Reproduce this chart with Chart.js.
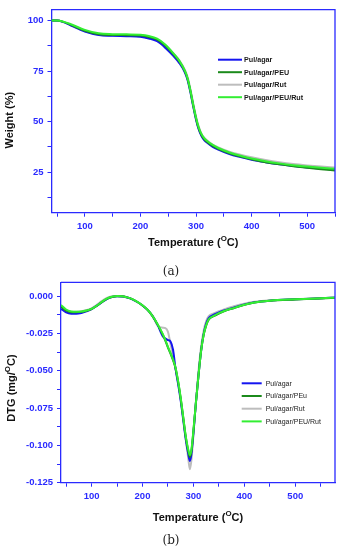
<!DOCTYPE html>
<html>
<head>
<meta charset="utf-8">
<script src="https://cdn.jsdelivr.net/npm/chart.js@4.4.1/dist/chart.umd.min.js"></script>
<style>
  body { margin: 0; background: #fff; }
  #page { position: relative; width: 342px; height: 550px; overflow: hidden; background: #fff; }
  canvas { position: absolute; left: 0; }
  #tgaChart { top: 0; }
  #dtgChart { top: 272px; }
  .caption { position: absolute; left: 0; width: 342px; text-align: center; font-family: 'DejaVu Serif', serif; font-size: 12px; line-height: 14px; color: #222; }
</style>
</head>
<body>
<div id="page">
  <canvas id="tgaChart" width="342" height="262"></canvas>
  <canvas id="dtgChart" width="342" height="262"></canvas>
  <div class="caption" style="top:264px">(a)</div>
  <div class="caption" style="top:533px">(b)</div>
</div>
<script>
// ---- TGA data (weight %) ----
const tgaTemp = [40, 50, 60, 75, 100, 125, 150, 175, 200, 215, 230, 245, 260, 270, 280, 285, 290, 295, 300, 305, 310, 315, 320, 330, 340, 360, 380, 400, 425, 450, 475, 500, 525, 550];
const tgaPulAgar = [100, 100, 99.4, 97.6, 94.6, 92.9, 92.5, 92.3, 92.0, 91.2, 89.8, 86.5, 82.3, 79.0, 74.3, 70.4, 64.4, 57.4, 51.0, 46.0, 42.8, 40.8, 39.6, 37.6, 36.2, 34.0, 32.5, 31.2, 30.0, 29.0, 28.1, 27.4, 26.8, 26.2];
const tgaPulAgarPEU = [100, 100, 99.5, 97.9, 95.0, 93.3, 92.9, 92.8, 92.6, 91.9, 90.6, 87.6, 83.2, 79.8, 74.9, 71.0, 65.0, 58.0, 51.5, 46.5, 43.3, 41.3, 40.0, 38.0, 36.6, 34.4, 32.8, 31.4, 30.0, 28.9, 28.0, 27.2, 26.5, 25.9];
const tgaPulAgarRut = [100, 100, 99.5, 97.8, 94.8, 93.0, 92.6, 92.5, 92.2, 91.5, 90.3, 87.6, 83.6, 80.4, 75.6, 72.0, 66.0, 59.0, 52.5, 47.5, 44.0, 42.0, 40.7, 38.7, 37.3, 35.2, 33.7, 32.4, 31.1, 30.0, 29.1, 28.4, 27.8, 27.3];
const tgaPulAgarPEURut = [100, 100, 99.6, 98.2, 95.4, 93.7, 93.3, 93.2, 93.0, 92.4, 91.1, 88.1, 83.6, 80.1, 75.1, 71.3, 65.3, 58.3, 52.0, 47.0, 43.8, 41.8, 40.5, 38.5, 37.0, 34.8, 33.2, 31.8, 30.5, 29.4, 28.5, 27.8, 27.2, 26.7];
const tgaNames = ['Pul/agar', 'Pul/agar/PEU', 'Pul/agar/Rut', 'Pul/agar/PEU/Rut'];
const tgaXTicks = [50, 100, 150, 200, 250, 300, 350, 400, 450, 500, 550];
const tgaXLabels = [100, 200, 300, 400, 500];
const tgaYTicks = [12.5, 25, 37.5, 50, 62.5, 75, 87.5, 100];
const tgaYLabels = [25, 50, 75, 100];

// ---- DTG data (mg/°C) ----
const dtgTemp = [40, 50, 60, 70, 80, 90, 100, 110, 120, 130, 140, 150, 160, 170, 180, 190, 200, 210, 220, 230, 240, 245, 250, 255, 260, 265, 270, 275, 280, 285, 290, 293, 296, 300, 305, 310, 315, 320, 325, 330, 340, 350, 360, 380, 400, 420, 450, 500, 550, 578];
const dtgPulAgar = [-0.0085, -0.0110, -0.0118, -0.0118, -0.0113, -0.0102, -0.0088, -0.0066, -0.0042, -0.0020, -0.0007, -0.0002, -0.0003, -0.0010, -0.0022, -0.0040, -0.0063, -0.0093, -0.0135, -0.0195, -0.0270, -0.0285, -0.0295, -0.0305, -0.0360, -0.0490, -0.0590, -0.0700, -0.0830, -0.0960, -0.1060, -0.1105, -0.1060, -0.0920, -0.0710, -0.0530, -0.0370, -0.0255, -0.0185, -0.0148, -0.0125, -0.0110, -0.0097, -0.0077, -0.0057, -0.0042, -0.0031, -0.0022, -0.0015, -0.0011];
const dtgPulAgarPEu = [-0.0070, -0.0098, -0.0108, -0.0109, -0.0106, -0.0098, -0.0087, -0.0066, -0.0041, -0.0019, -0.0006, -0.0001, -0.0002, -0.0009, -0.0021, -0.0040, -0.0063, -0.0093, -0.0136, -0.0193, -0.0260, -0.0300, -0.0345, -0.0385, -0.0430, -0.0485, -0.0575, -0.0685, -0.0815, -0.0945, -0.1040, -0.1078, -0.1040, -0.0905, -0.0712, -0.0530, -0.0368, -0.0262, -0.0198, -0.0158, -0.0135, -0.0117, -0.0102, -0.0080, -0.0059, -0.0044, -0.0032, -0.0023, -0.0016, -0.0012];
const dtgPulAgarRut = [-0.0065, -0.0095, -0.0105, -0.0105, -0.0102, -0.0094, -0.0082, -0.0060, -0.0034, -0.0013, -0.0002, 0.0000, -0.0003, -0.0010, -0.0022, -0.0040, -0.0063, -0.0092, -0.0132, -0.0200, -0.0212, -0.0215, -0.0240, -0.0320, -0.0400, -0.0490, -0.0580, -0.0690, -0.0820, -0.0960, -0.1090, -0.1160, -0.1100, -0.0930, -0.0700, -0.0500, -0.0340, -0.0235, -0.0170, -0.0135, -0.0117, -0.0102, -0.0089, -0.0068, -0.0051, -0.0039, -0.0029, -0.0021, -0.0014, -0.0010];
const dtgPulAgarPEURut = [-0.0060, -0.0090, -0.0103, -0.0106, -0.0104, -0.0097, -0.0086, -0.0065, -0.0040, -0.0018, -0.0005, 0.0000, -0.0002, -0.0009, -0.0021, -0.0039, -0.0062, -0.0092, -0.0135, -0.0190, -0.0255, -0.0295, -0.0340, -0.0380, -0.0425, -0.0480, -0.0570, -0.0680, -0.0810, -0.0940, -0.1030, -0.1065, -0.1030, -0.0900, -0.0710, -0.0530, -0.0370, -0.0260, -0.0195, -0.0155, -0.0133, -0.0115, -0.0100, -0.0079, -0.0058, -0.0043, -0.0031, -0.0022, -0.0015, -0.0011];
const dtgNames = ['Pul/agar', 'Pul/agar/PEu', 'Pul/agar/Rut', 'Pul/agar/PEU/Rut'];
const dtgXTicks = [50, 100, 150, 200, 250, 300, 350, 400, 450, 500, 550];
const dtgXLabels = [100, 200, 300, 400, 500];
const dtgYTicks = [-0.125, -0.1125, -0.1, -0.0875, -0.075, -0.0625, -0.05, -0.0375, -0.025, -0.0125, 0];
const dtgYLabels = [-0.125, -0.1, -0.075, -0.05, -0.025, 0];

// ---- styling ----
const axisBlue = '#2a2aff';
const lineColors = ['#1414f0', '#1b8a1b', '#bdbdbd', '#33ee33'];
const drawOrder = [3, 2, 4, 1]; // lower number is drawn on top
Chart.defaults.font.family = "'Liberation Sans', Arial, sans-serif";

function hasValue(list, v) {
    return list.some(l => Math.abs(l - v) < 1e-9);
}

function buildDatasets(temps, series, names) {
    return series.map((vals, i) => ({
        label: names[i],
        data: temps.map((t, k) => ({ x: t, y: vals[k] })),
        borderColor: lineColors[i],
        borderWidth: 2,
        pointRadius: 0,
        cubicInterpolationMode: 'monotone',
        fill: false,
        order: drawOrder[i]
    }));
}

// draws a string where parts flagged sup are raised and smaller
function drawRich(ctx, parts, cx, cy, size) {
    const fontFor = p => 'bold ' + (p.sup ? size * 0.72 : size) + "px 'Liberation Sans', Arial, sans-serif";
    let total = 0;
    parts.forEach(p => { ctx.font = fontFor(p); total += ctx.measureText(p.t).width; });
    let x = cx - total / 2;
    ctx.textAlign = 'left';
    ctx.textBaseline = 'middle';
    parts.forEach(p => {
        ctx.font = fontFor(p);
        ctx.fillText(p.t, x, p.sup ? cy - size * 0.38 : cy);
        x += ctx.measureText(p.t).width;
    });
}

// frame, in-plot legend and axis titles
const extrasPlugin = {
    id: 'extras',
    afterDraw(chart, args, opts) {
        const { ctx, chartArea: a } = chart;
        ctx.save();
        // top and right edges of the frame
        ctx.strokeStyle = axisBlue;
        ctx.lineWidth = 1.3;
        ctx.beginPath();
        ctx.moveTo(a.left, a.top);
        ctx.lineTo(a.right, a.top);
        ctx.lineTo(a.right, a.bottom);
        ctx.stroke();

        // legend
        const lg = opts.legend;
        chart.data.datasets.forEach((ds, i) => {
            const y = a.top + lg.top + i * lg.gap;
            ctx.strokeStyle = ds.borderColor;
            ctx.lineWidth = 2;
            ctx.beginPath();
            ctx.moveTo(a.left + lg.x, y);
            ctx.lineTo(a.left + lg.x + lg.len, y);
            ctx.stroke();
            ctx.font = lg.font;
            ctx.fillStyle = '#1a1a1a';
            ctx.textAlign = 'left';
            ctx.textBaseline = 'middle';
            ctx.fillText(ds.label, a.left + lg.x + lg.len + lg.textGap, y + 0.5);
        });

        // axis titles
        ctx.fillStyle = '#111';
        drawRich(ctx, opts.xTitle, (a.left + a.right) / 2, a.bottom + opts.xTitleDy, 11);
        ctx.translate(opts.yTitleX, (a.top + a.bottom) / 2 + opts.yTitleDy);
        ctx.rotate(-Math.PI / 2);
        drawRich(ctx, opts.yTitle, 0, 0, 11);
        ctx.restore();
    }
};

function axisOptions(min, max, ticks, labels, fmt, fitProp, fitSize) {
    return {
        type: 'linear',
        min: min,
        max: max,
        afterBuildTicks: s => { s.ticks = ticks.map(v => ({ value: v })); },
        afterFit: s => { s[fitProp] = fitSize; },
        ticks: {
            autoSkip: false,
            maxRotation: 0,
            padding: 4,
            color: axisBlue,
            font: { size: 9.5, weight: 'bold' },
            callback: v => hasValue(labels, v) ? fmt(v) : ''
        },
        grid: { drawOnChartArea: false, drawTicks: true, tickLength: 4, tickColor: axisBlue, tickWidth: 1 },
        border: { color: axisBlue, width: 1.3 }
    };
}

// TGA chart (a)
new Chart(document.getElementById('tgaChart'), {
    type: 'line',
    data: { datasets: buildDatasets(tgaTemp, [tgaPulAgar, tgaPulAgarPEU, tgaPulAgarRut, tgaPulAgarPEURut], tgaNames) },
    options: {
        responsive: false,
        animation: false,
        layout: { padding: { top: 4, right: 7, left: 0, bottom: 0 } },
        scales: {
            x: axisOptions(40, 550, tgaXTicks, tgaXLabels, v => String(v), 'height', 49.3),
            y: axisOptions(5, 105.4, tgaYTicks, tgaYLabels, v => String(v), 'width', 51.5)
        },
        plugins: {
            legend: { display: false },
            tooltip: { enabled: false },
            extras: {
                legend: { x: 166.5, len: 24, textGap: 2, top: 50, gap: 12.5, font: "bold 7.2px 'Liberation Sans', Arial, sans-serif" },
                xTitle: [{ t: 'Temperature (' }, { t: 'O', sup: true }, { t: 'C)' }],
                xTitleDy: 30.6,
                yTitle: [{ t: 'Weight (%)' }],
                yTitleX: 9.5,
                yTitleDy: 9
            }
        }
    },
    plugins: [extrasPlugin]
});

// DTG chart (b)
new Chart(document.getElementById('dtgChart'), {
    type: 'line',
    data: { datasets: buildDatasets(dtgTemp, [dtgPulAgar, dtgPulAgarPEu, dtgPulAgarRut, dtgPulAgarPEURut], dtgNames) },
    options: {
        responsive: false,
        animation: false,
        layout: { padding: { top: 10.3, right: 7, left: 0, bottom: 0 } },
        scales: {
            x: axisOptions(40, 578, dtgXTicks, dtgXLabels, v => String(v), 'height', 51.3),
            y: axisOptions(-0.125, 0.0092, dtgYTicks, dtgYLabels, v => v.toFixed(3), 'width', 61)
        },
        plugins: {
            legend: { display: false },
            tooltip: { enabled: false },
            extras: {
                legend: { x: 180.7, len: 20, textGap: 4, top: 101, gap: 12.7, font: "7px 'Liberation Sans', Arial, sans-serif" },
                xTitle: [{ t: 'Temperature (' }, { t: 'O', sup: true }, { t: 'C)' }],
                xTitleDy: 35.6,
                yTitle: [{ t: 'DTG (mg/' }, { t: 'O', sup: true }, { t: 'C)' }],
                yTitleX: 12,
                yTitleDy: 5.5
            }
        }
    },
    plugins: [extrasPlugin]
});
</script>
</body>
</html>
